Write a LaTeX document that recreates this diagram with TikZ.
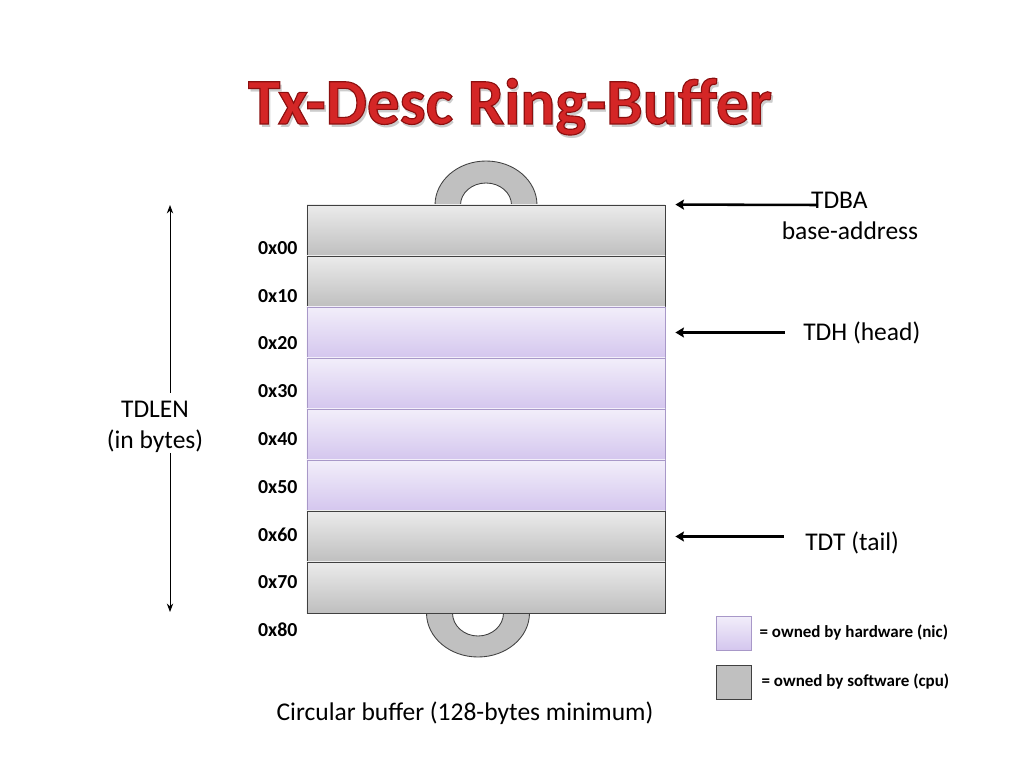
\documentclass[tikz,border=0pt]{standalone}
\usepackage{fontspec}
\setmainfont{Carlito}
\usepackage{xcolor}
\usepackage{tikz}
\usetikzlibrary{arrows.meta,positioning,calc}
\definecolor{swtop}{HTML}{EBEBEB}
\definecolor{swbot}{HTML}{BFBFBF}
\definecolor{hwtop}{HTML}{F2EEFA}
\definecolor{hwbot}{HTML}{D4C6EE}
\definecolor{hwline}{HTML}{A898C8}
\definecolor{ringgray}{HTML}{C0C0C0}
\definecolor{titlered}{HTML}{D42626}
% outline of the title (stroke colour, line width)
\newcommand{\titletxt}{\fontsize{46}{52}\selectfont\bfseries Tx-Desc Ring-Buffer}
\newcommand{\strokedtxt}[2]{\special{pdf:literal direct 2 Tr #2 w #1 RG}\titletxt\special{pdf:literal direct 0 Tr}}

\begin{document}
\begin{tikzpicture}[x=0.0248cm,y=-0.0248cm,
    swrow/.style={draw=black!75, top color=swtop, bottom color=swbot,
      minimum width=8.88cm, minimum height=1.265cm, inner sep=0pt, line width=0.6pt},
    hwrow/.style={draw=hwline, top color=hwtop, bottom color=hwbot,
      minimum width=8.88cm, minimum height=1.265cm, inner sep=0pt, line width=0.6pt},
    keybox/.style={minimum width=0.868cm, minimum height=0.843cm, inner sep=0pt, line width=0.6pt},
    hexlbl/.style={anchor=west, inner sep=2pt, font=\fontsize{14}{16}\selectfont\bfseries},
    lbl/.style={inner sep=0pt, font=\fontsize{18}{21.6}\selectfont, align=center},
    keylbl/.style={anchor=west, inner sep=0pt, font=\fontsize{12}{14}\selectfont\bfseries},
    ptr/.style={-{Stealth[length=6pt,width=7pt,inset=1pt]}, line width=1.8pt},
    lenptr/.style={-{Stealth[length=6pt,width=4.5pt]}, line width=0.7pt},
    ring/.style={draw=black!75, fill=ringgray, line width=0.6pt}]
  \useasboundingbox (0,0) rectangle (1024,768);

  % title
  \coordinate (titlepos) at (510,124);
  \node[anchor=base, text=black!20] (titleshade) at ($(titlepos)+(1.6pt,-2.2pt)$) {\titletxt};
  \node[anchor=base, text=titlered] (title) at (titlepos) {\strokedtxt{0.55 0.06 0.06}{0.8}};

  % wrap-around loops
  \draw[ring] (435,205) arc[start angle=180, end angle=360, x radius=51, y radius=44]
    -- (511.5,205) arc[start angle=360, end angle=180, x radius=25.5, y radius=22] -- cycle;
  \draw[ring] (426.5,613) arc[start angle=180, end angle=0, x radius=51.5, y radius=44]
    -- (503.5,613) arc[start angle=0, end angle=180, x radius=25.5, y radius=23] -- cycle;

  % descriptor slots
  \foreach \i/\kind in {0/swrow,1/swrow,2/hwrow,3/hwrow,4/hwrow,5/hwrow,6/swrow,7/swrow}
    \node[\kind] (row\i) at (486,{230.5+51*\i}) {};
  \foreach \i/\h in {0/00,1/10,2/20,3/30,4/40,5/50,6/60,7/70,8/80}
    \node[hexlbl] (hex\i) at (255,{248+47.75*\i}) {0x\h};

  % length
  \node[lbl] (tdlen) at (155,427) {TDLEN\\(in bytes)};
  \coordinate (lentop) at (170,205);
  \coordinate (lenbot) at (170,612);
  \draw[lenptr] ([yshift=6pt]tdlen.north -| lentop) -- (lentop);
  \draw[lenptr] (tdlen.south -| lenbot) -- (lenbot);

  % registers
  \node[lbl] (tdba) at (850,216) {TDBA\hspace*{15pt}\\base-address};
  \coordinate (tdbatail) at (818,205);
  \draw[ptr] (tdbatail) -- ([xshift=7pt]row0.north east);
  \node[lbl, anchor=west] (tdh) at (803,333) {TDH (head)};
  \draw[ptr] ([xshift=-13pt]tdh.west |- row2.east) -- ([xshift=7pt]row2.east);
  \node[lbl, anchor=west] (tdt) at (805,543) {TDT (tail)};
  \draw[ptr] ([xshift=-15pt]tdt.west |- row6.east) -- ([xshift=7pt]row6.east);

  % legend
  \node[keybox, draw=hwline, top color=hwtop, bottom color=hwbot] (keyhw) at (733.5,633) {};
  \node[keylbl, right=5.6pt of keyhw] (keyhwtxt) {= owned by hardware (nic)};
  \node[keybox, draw=black!75, fill=ringgray] (keysw) at (733.5,682) {};
  \node[keylbl, right=7pt of keysw] (keyswtxt) {= owned by software (cpu)};

  \node[lbl] (caption) at (465,713) {Circular buffer (128-bytes minimum)};
\end{tikzpicture}
\end{document}
